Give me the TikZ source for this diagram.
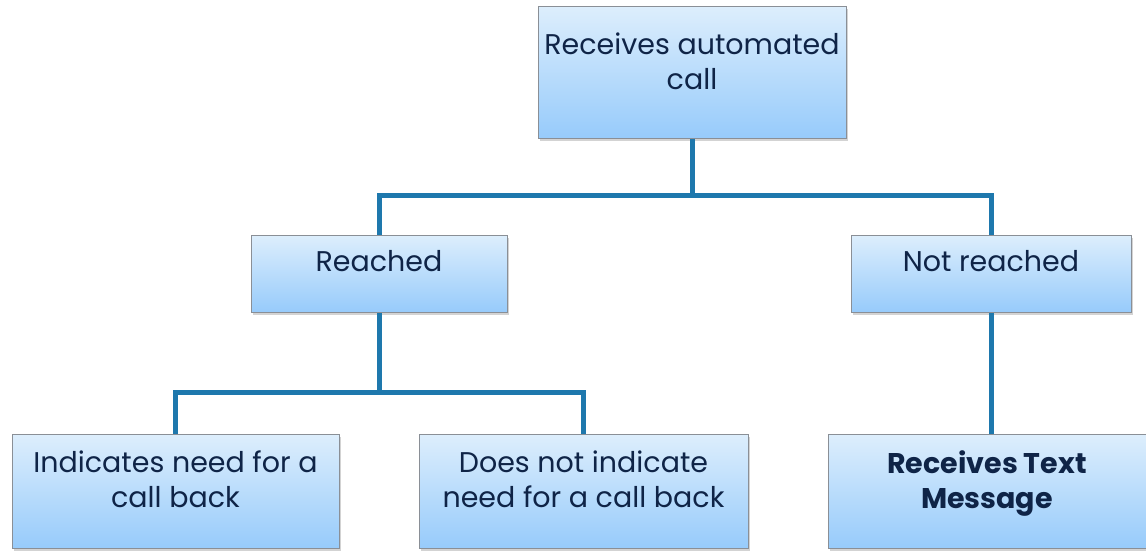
\documentclass[tikz,border=0pt]{standalone}
\usepackage{fontspec}
\setmainfont{Poppins}
\usetikzlibrary{shadows}
\definecolor{boxtop}{HTML}{DDEEFC}
\definecolor{boxbot}{HTML}{97CBFB}
\definecolor{boxline}{HTML}{8A8F96}
\definecolor{linkblue}{HTML}{1E78AD}
\definecolor{textnavy}{HTML}{0F2447}

\begin{document}
\begin{tikzpicture}[
    x=1pt, y=-1pt,
    cbox/.style={
        draw=boxline,
        line width=1pt,
        top color=boxtop,
        bottom color=boxbot,
        drop shadow={shadow xshift=2pt,shadow yshift=-2.5pt,opacity=0.35},
        inner sep=0pt
    },
    ctext/.style={
        anchor=north,
        align=center,
        text=textnavy,
        inner sep=0pt,
        font=\fontsize{28.5}{35}\selectfont
    },
    link/.style={draw=linkblue,line width=5pt}
]
\useasboundingbox (0,0) rectangle (1146,550);

% Decision boxes
\node[cbox, minimum width=308, minimum height=132,
    label={[ctext,yshift=-27pt]north:Receives automated\\call}] (auto) at (692,72) {};
\node[cbox, minimum width=256, minimum height=77,
    label={[ctext,yshift=-16pt]north:Reached}] (reached) at (379,273.5) {};
\node[cbox, minimum width=280, minimum height=77,
    label={[ctext,yshift=-16pt]north:Not reached}] (notreached) at (991,273.5) {};

% Outcomes
\node[cbox, minimum width=327, minimum height=114,
    label={[ctext,yshift=-17pt]north:Indicates need for a\\call back}] (callback) at (175.5,491) {};
\node[cbox, minimum width=329, minimum height=114,
    label={[ctext,yshift=-17pt]north:Does not indicate\\need for a call back}] (nocallback) at (583.5,491) {};
\node[cbox, minimum width=318, minimum height=114,
    label={[ctext,yshift=-17pt,font=\fontsize{28.5}{35}\selectfont\bfseries]north:Receives Text\\Message}] (textmsg) at (987,491) {};

% Connectors
\coordinate (split1) at (692,195);
\coordinate (split2) at (379,392);
\draw[link] (auto.south) -- (split1) -| (reached.north);
\draw[link] (split1) -| (notreached.north);
\draw[link] (reached.south) -- (split2) -| (callback.north);
\draw[link] (split2) -| (nocallback.north);
\draw[link] (notreached.south) -- (notreached.south |- textmsg.north);

\end{tikzpicture}
\end{document}
